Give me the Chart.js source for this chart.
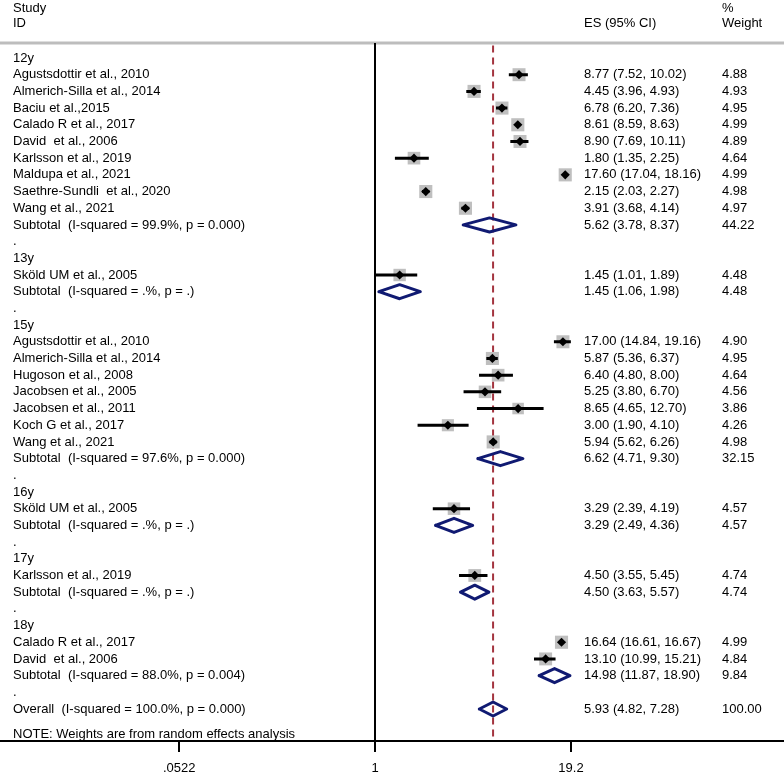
<!DOCTYPE html>
<html>
<head>
<meta charset="utf-8">
<script src="https://cdn.jsdelivr.net/npm/chart.js@4.4.1/dist/chart.umd.min.js"></script>
<style>
  html, body { margin: 0; padding: 0; background: #fff; }
  #wrap { width: 784px; height: 775px; position: relative; }
</style>
</head>
<body>
<div id="wrap"><canvas id="forest"></canvas></div>
<script>
/* forest plot data */
var groups = ["12y", "13y", "15y", "16y", "17y", "18y"];

var studyNames = [
  "Agustsdottir et al., 2010", "Almerich-Silla et al., 2014", "Baciu et al.,2015",
  "Calado R et al., 2017", "David  et al., 2006", "Karlsson et al., 2019",
  "Maldupa et al., 2021", "Saethre-Sundli  et al., 2020", "Wang et al., 2021",
  "Sköld UM et al., 2005",
  "Agustsdottir et al., 2010", "Almerich-Silla et al., 2014", "Hugoson et al., 2008",
  "Jacobsen et al., 2005", "Jacobsen et al., 2011", "Koch G et al., 2017", "Wang et al., 2021",
  "Sköld UM et al., 2005",
  "Karlsson et al., 2019",
  "Calado R et al., 2017", "David  et al., 2006"
];
var studyGroup = [0,0,0,0,0,0,0,0,0, 1, 2,2,2,2,2,2,2, 3, 4, 5,5];
var studyEs   = [8.77, 4.45, 6.78, 8.61, 8.90, 1.80, 17.60, 2.15, 3.91, 1.45, 17.00, 5.87, 6.40, 5.25, 8.65, 3.00, 5.94, 3.29, 4.50, 16.64, 13.10];
var studyLow  = [7.52, 3.96, 6.20, 8.59, 7.69, 1.35, 17.04, 2.03, 3.68, 1.01, 14.84, 5.36, 4.80, 3.80, 4.65, 1.90, 5.62, 2.39, 3.55, 16.61, 10.99];
var studyHigh = [10.02, 4.93, 7.36, 8.63, 10.11, 2.25, 18.16, 2.27, 4.14, 1.89, 19.16, 6.37, 8.00, 6.70, 12.70, 4.10, 6.26, 4.19, 5.45, 16.67, 15.21];
var studyWeight = [4.88, 4.93, 4.95, 4.99, 4.89, 4.64, 4.99, 4.98, 4.97, 4.48, 4.90, 4.95, 4.64, 4.56, 3.86, 4.26, 4.98, 4.57, 4.74, 4.99, 4.84];

var subLabels = [
  "Subtotal  (I-squared = 99.9%, p = 0.000)", "Subtotal  (I-squared = .%, p = .)",
  "Subtotal  (I-squared = 97.6%, p = 0.000)", "Subtotal  (I-squared = .%, p = .)",
  "Subtotal  (I-squared = .%, p = .)", "Subtotal  (I-squared = 88.0%, p = 0.004)"
];
var subEs   = [5.62, 1.45, 6.62, 3.29, 4.50, 14.98];
var subLow  = [3.78, 1.06, 4.71, 2.49, 3.63, 11.87];
var subHigh = [8.37, 1.98, 9.30, 4.36, 5.57, 18.90];
var subWeight = [44.22, 4.48, 32.15, 4.57, 4.74, 9.84];

var overallLabel = "Overall  (I-squared = 100.0%, p = 0.000)";
var overallEs = 5.93, overallLow = 4.82, overallHigh = 7.28, overallWeight = 100.00;

var tickValues = [0.0522, 1, 19.2];
var tickLabels = [".0522", "1", "19.2"];
var noteText = "NOTE: Weights are from random effects analysis";

/* layout of rows: group header, studies, subtotal, "." spacer */
var FONT = "13px 'Liberation Sans', Arial, sans-serif";
var rowText = [];
var studyRow = [];
var subRow = [];
var r = 0;
groups.forEach(function (g, gi) {
  rowText.push({ row: r, label: g });
  r++;
  studyNames.forEach(function (name, i) {
    if (studyGroup[i] !== gi) return;
    studyRow[i] = r;
    rowText.push({ row: r, label: name, es: studyEs[i], lo: studyLow[i], hi: studyHigh[i], w: studyWeight[i] });
    r++;
  });
  subRow[gi] = r;
  rowText.push({ row: r, label: subLabels[gi], es: subEs[gi], lo: subLow[gi], hi: subHigh[gi], w: subWeight[gi] });
  r++;
  rowText.push({ row: r, label: "." });
  r++;
});
var overallRow = r;
rowText.push({ row: r, label: overallLabel, es: overallEs, lo: overallLow, hi: overallHigh, w: overallWeight });

var fmt = function (v) { return v.toFixed(2); };

/* datasets built from the arrays */
var squares = studyEs.map(function (v, i) { return { x: v, y: studyRow[i] }; });
var squareRadius = studyWeight.map(function (w) { return 4.15 * Math.sqrt(w); });
var ciLines = [];
studyEs.forEach(function (v, i) {
  ciLines.push({ x: studyLow[i], y: studyRow[i] });
  ciLines.push({ x: studyHigh[i], y: studyRow[i] });
  ciLines.push({ x: studyEs[i], y: null });
});
var halfH = 0.42;
var diamonds = [];
function addDiamond(es, lo, hi, row) {
  diamonds.push({ x: lo, y: row });
  diamonds.push({ x: es, y: row - halfH });
  diamonds.push({ x: hi, y: row });
  diamonds.push({ x: es, y: row + halfH });
  diamonds.push({ x: lo, y: row });
  diamonds.push({ x: es, y: null });
}
subEs.forEach(function (v, i) { addDiamond(v, subLow[i], subHigh[i], subRow[i]); });
addDiamond(overallEs, overallLow, overallHigh, overallRow);

var xMin = 0.003505, xMax = 476.3;
var yMin = -3.4747, yMax = 40.917;

var textPlugin = {
  id: "forestText",
  afterDraw: function (chart) {
    var ctx = chart.ctx;
    var ys = chart.scales.y;
    ctx.save();
    ctx.font = FONT;
    ctx.fillStyle = "#000";
    ctx.textBaseline = "middle";
    ctx.textAlign = "left";
    ctx.fillText("Study", 13, ys.getPixelForValue(-2.95));
    ctx.fillText("ID", 13, ys.getPixelForValue(-2.05));
    ctx.fillText("ES (95% CI)", 584, ys.getPixelForValue(-2.05));
    ctx.fillText("%", 722, ys.getPixelForValue(-2.95));
    ctx.fillText("Weight", 722, ys.getPixelForValue(-2.05));
    rowText.forEach(function (t) {
      var y = ys.getPixelForValue(t.row);
      ctx.fillText(t.label, 13, y);
      if (t.es !== undefined) {
        ctx.fillText(fmt(t.es) + " (" + fmt(t.lo) + ", " + fmt(t.hi) + ")", 584, y);
        ctx.fillText(fmt(t.w), 722, y);
      }
    });
    ctx.fillText(noteText, 13, ys.getPixelForValue(40.55));
    ctx.restore();
  }
};

new Chart(document.getElementById("forest"), {
  type: "scatter",
  data: {
    datasets: [
      {
        label: "estimate",
        data: squares,
        pointStyle: "rectRot",
        pointRadius: 4.6,
        backgroundColor: "#000",
        borderWidth: 0,
        order: 0
      },
      {
        label: "ci",
        data: ciLines,
        showLine: true,
        pointRadius: 0,
        borderColor: "#000",
        borderWidth: 3,
        spanGaps: false,
        order: 1
      },
      {
        label: "weight box",
        data: squares,
        pointStyle: "rect",
        pointRadius: squareRadius,
        backgroundColor: "#bfbfbf",
        borderWidth: 0,
        order: 2
      },
      {
        label: "pooled",
        data: diamonds,
        showLine: true,
        pointRadius: 0,
        borderColor: "#101a72",
        borderWidth: 3,
        borderJoinStyle: "round",
        borderCapStyle: "round",
        spanGaps: false,
        order: 3
      },
      {
        label: "overall line",
        data: [{ x: overallEs, y: -0.75 }, { x: overallEs, y: yMax }],
        showLine: true,
        pointRadius: 0,
        borderColor: "#a3343f",
        borderWidth: 2,
        borderDash: [7, 5],
        order: 4
      },
      {
        label: "null line",
        data: [{ x: 1, y: -0.9 }, { x: 1, y: yMax }],
        showLine: true,
        pointRadius: 0,
        borderColor: "#000",
        borderWidth: 2,
        order: 5
      },
      {
        label: "header rule",
        data: [{ x: xMin, y: -0.9 }, { x: xMax, y: -0.9 }],
        showLine: true,
        pointRadius: 0,
        borderColor: "#bdbdbd",
        borderWidth: 3,
        order: 6
      }
    ]
  },
  options: {
    responsive: true,
    maintainAspectRatio: false,
    animation: false,
    events: [],
    layout: { padding: 0, autoPadding: false },
    plugins: { legend: { display: false }, tooltip: { enabled: false } },
    scales: {
      x: {
        type: "logarithmic",
        min: xMin,
        max: xMax,
        position: "bottom",
        afterBuildTicks: function (scale) {
          scale.ticks = tickValues.map(function (v) { return { value: v }; });
        },
        afterFit: function (scale) {
          scale.height = 34;
          scale.paddingLeft = 0;
          scale.paddingRight = 0;
        },
        ticks: {
          autoSkip: false,
          maxRotation: 0,
          padding: 9,
          color: "#000",
          font: { family: "'Liberation Sans', Arial, sans-serif", size: 13 },
          callback: function (value, index) { return tickLabels[index]; }
        },
        grid: {
          display: true,
          drawOnChartArea: false,
          drawTicks: true,
          tickLength: 11,
          lineWidth: 2,
          color: "#000"
        },
        border: { display: true, width: 2, color: "#000" }
      },
      y: {
        type: "linear",
        reverse: true,
        min: yMin,
        max: yMax,
        display: false
      }
    }
  },
  plugins: [textPlugin]
});
</script>
</body>
</html>
